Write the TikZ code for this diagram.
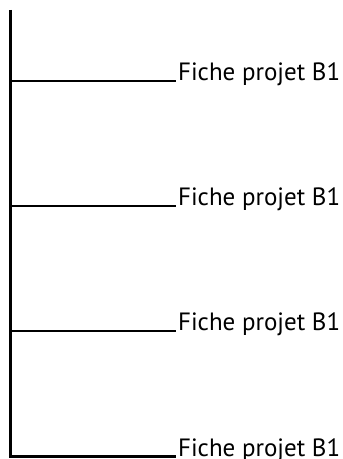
\documentclass[tikz,border=0pt]{standalone}
\usepackage{fontspec}
\setmainfont{PT Sans}
\usepackage{tikz}
\usetikzlibrary{positioning}

\tikzset{fiche/.style={anchor=base west,inner sep=0pt,font=\fontsize{25}{28}\selectfont}}

\begin{document}
\begin{tikzpicture}[x=1pt,y=1pt,line width=2.2pt]
		\useasboundingbox (0,0) rectangle (343,459);
		\coordinate (haut) at (10.5,449);
		\coordinate (bas) at (10.5,1.4);
		\coordinate (j1) at (10.5,378.3);
		\coordinate (j2) at (10.5,253.3);
		\coordinate (j3) at (10.5,128.3);
		\coordinate (j4) at (10.5,2.5);
		\draw (haut) -- (bas);
		\node[fiche] (f1) at (177,378.3) {Fiche projet B1};
		\node[fiche] (f2) at (177,253.3) {Fiche projet B1};
		\node[fiche] (f3) at (177,128.3) {Fiche projet B1};
		\node[fiche] (f4) at (177,2.5) {Fiche projet B1};
		\draw (j1) -- ([xshift=-1.5pt]f1.base west);
		\draw (j2) -- ([xshift=-1.5pt]f2.base west);
		\draw (j3) -- ([xshift=-1.5pt]f3.base west);
		\draw (j4) -- ([xshift=-1.5pt]f4.base west);
\end{tikzpicture}
\end{document}
